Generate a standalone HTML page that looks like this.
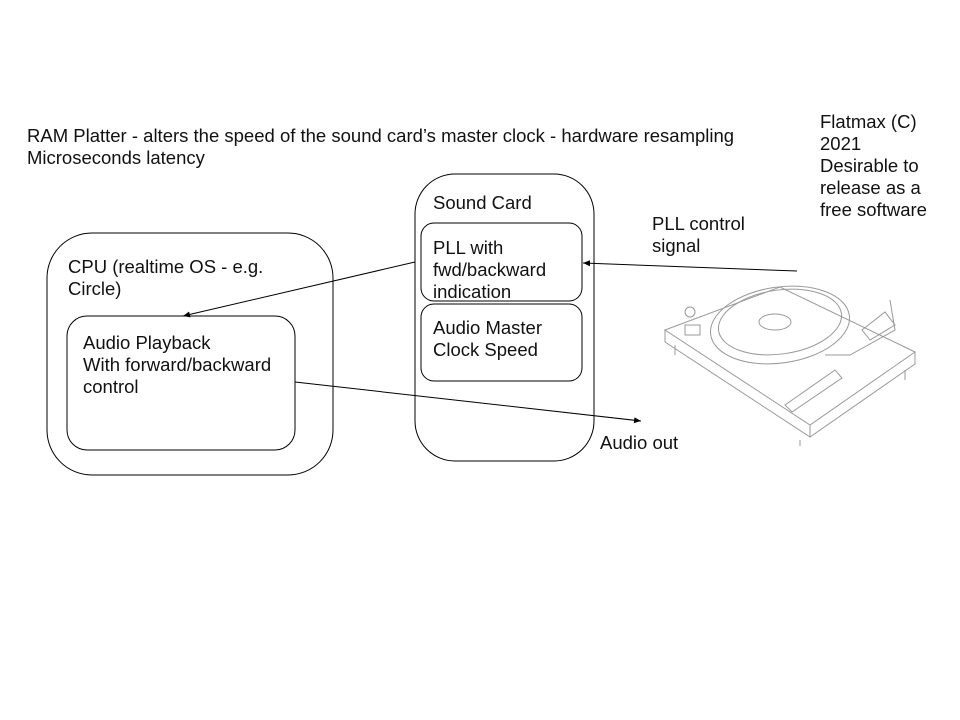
<!DOCTYPE html>
<html><head><meta charset="utf-8"><style>
html,body{margin:0;padding:0;background:#fff}
svg{display:block}
text{font-family:"Liberation Sans",Arial,sans-serif;font-size:18.5px;fill:#111}
</style></head><body>
<svg width="960" height="720" viewBox="0 0 960 720">
<defs><marker id="a" markerWidth="8" markerHeight="8" refX="7" refY="4" orient="auto" markerUnits="userSpaceOnUse"><path d="M0,1 L7,4 L0,7 z" fill="#000"/></marker></defs>
<text x="27" y="142">RAM Platter - alters the speed of the sound card’s master clock - hardware resampling</text>
<text x="27" y="164">Microseconds latency</text>
<text x="820" y="128">Flatmax (C)</text>
<text x="820" y="150">2021</text>
<text x="820" y="172">Desirable to</text>
<text x="820" y="194">release as a</text>
<text x="820" y="216">free software</text>
<text x="652" y="230">PLL control</text>
<text x="652" y="252">signal</text>
<text x="600" y="449">Audio out</text>
<rect x="47" y="233" width="286" height="242" rx="45" fill="none" stroke="#000" stroke-width="1"/>
<text x="68" y="273">CPU (realtime OS - e.g.</text>
<text x="68" y="295">Circle)</text>
<rect x="67" y="316" width="228" height="134" rx="20" fill="none" stroke="#000"/>
<text x="83" y="349">Audio Playback</text>
<text x="83" y="371">With forward/backward</text>
<text x="83" y="393">control</text>
<rect x="415" y="174" width="179" height="287" rx="40" fill="none" stroke="#000"/>
<text x="433" y="209">Sound Card</text>
<rect x="421" y="223" width="161" height="78" rx="13" fill="none" stroke="#000"/>
<text x="433" y="254">PLL with</text>
<text x="433" y="276">fwd/backward</text>
<text x="433" y="298">indication</text>
<rect x="421" y="304" width="161" height="77" rx="13" fill="none" stroke="#000"/>
<text x="433" y="334">Audio Master</text>
<text x="433" y="356">Clock Speed</text>
<line x1="415" y1="262" x2="183" y2="316" stroke="#000" marker-end="url(#a)"/>
<line x1="295" y1="382" x2="641" y2="421" stroke="#000" marker-end="url(#a)"/>
<line x1="797" y1="271" x2="583" y2="263" stroke="#000" marker-end="url(#a)"/>
<g fill="none" stroke="#999" stroke-width="1">
<path d="M665,330 L780,287 L915,352 L810,425 Z"/>
<path d="M665,330 L665,342 L810,437 L915,364 L915,352"/>
<path d="M810,425 L810,437"/>
<ellipse cx="780" cy="325" rx="70" ry="38" transform="rotate(-8 780 325)"/>
<ellipse cx="780" cy="322" rx="62" ry="32" transform="rotate(-8 780 322)"/>
<ellipse cx="775" cy="322" rx="16" ry="8"/>
<path d="M862,330 L885,312 L895,325 L870,340 Z"/>
<path d="M890,300 L895,330 L850,355 L825,355"/>
<path d="M785,405 L835,370 L842,378 L792,412 Z"/>
<rect x="685" y="325" width="15" height="10"/>
<circle cx="690" cy="312" r="5"/>
<path d="M675,345 l0,10 M800,440 l0,6 M905,370 l0,10"/>
</g>
</svg>
</body></html>
